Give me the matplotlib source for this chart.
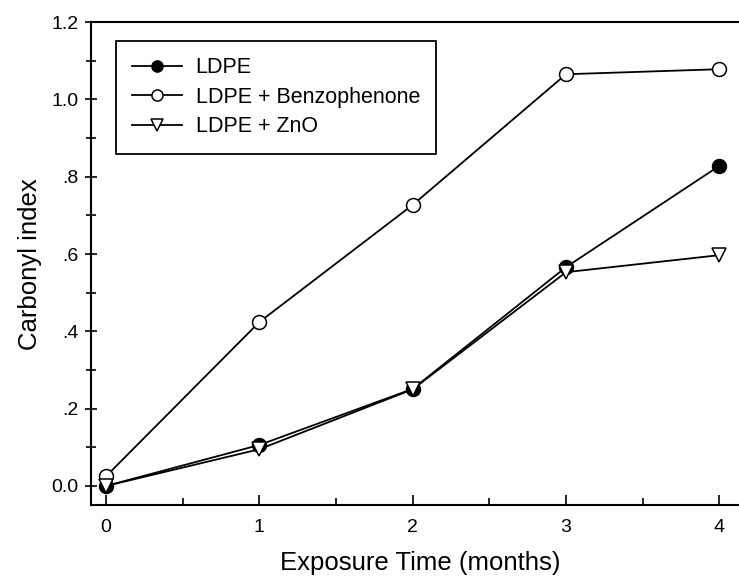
import matplotlib
matplotlib.use("Agg")
import matplotlib.pyplot as plt
from matplotlib.ticker import MultipleLocator, FixedLocator, FixedFormatter

plt.rcParams['font.family'] = ['Liberation Sans', 'DejaVu Sans']

# exposure time (months) and carbonyl index
months = [0, 1, 2, 3, 4]
ldpe = [0.0, 0.106, 0.251, 0.566, 0.828]
ldpe_benzo = [0.025, 0.424, 0.727, 1.065, 1.078]
ldpe_zno = [0.0, 0.095, 0.25, 0.553, 0.597]

y_ticks = [0.0, 0.2, 0.4, 0.6, 0.8, 1.0, 1.2]
y_labels = ["0.0", ".2", ".4", ".6", ".8", "1.0", "1.2"]

fig = plt.figure(figsize=(7.39, 5.8), dpi=100)
# axes run past the right edge of the picture, as in the scanned original
ax = fig.add_axes([0.1227, 0.1288, 0.8922, 0.8332])

kw = dict(color="black", lw=1.3, markersize=10, markeredgewidth=1.1, clip_on=False)
ax.plot(months, ldpe, marker="o", markerfacecolor="black", label="LDPE", zorder=4, **kw)
ax.plot(months, ldpe_benzo, marker="o", markerfacecolor="white", label="LDPE + Benzophenone", zorder=3, **kw)
ax.plot(months, ldpe_zno, marker="v", markerfacecolor="white", label="LDPE + ZnO", zorder=5, **kw)

ax.set_xlim(-0.1, 4.2)
ax.set_ylim(-0.05, 1.2)
ax.xaxis.set_major_locator(MultipleLocator(1))
ax.xaxis.set_minor_locator(MultipleLocator(0.5))
ax.yaxis.set_major_locator(FixedLocator(y_ticks))
ax.yaxis.set_major_formatter(FixedFormatter(y_labels))
ax.yaxis.set_minor_locator(MultipleLocator(0.1))

for s in ax.spines.values():
    s.set_linewidth(1.5)
ax.tick_params(axis="x", which="both", direction="in", labelsize=14, pad=10, width=1.2)
ax.tick_params(axis="x", which="major", length=7)
ax.tick_params(axis="x", which="minor", length=5)
ax.tick_params(axis="y", which="both", direction="inout", labelsize=14, pad=4, width=1.2)
ax.tick_params(axis="y", which="major", length=9)
ax.tick_params(axis="y", which="minor", length=7)

ax.set_xlabel("Exposure Time (months)", fontsize=18.5, labelpad=11)
ax.set_ylabel("Carbonyl index", fontsize=18.5, labelpad=7)

leg = ax.legend(loc="upper left", bbox_to_anchor=(116 / 739, 1 - 41 / 580),
                bbox_transform=fig.transFigure, fontsize=15.5, frameon=True,
                fancybox=False, handlelength=2.3, handletextpad=0.65,
                labelspacing=0.4, borderpad=0.75, borderaxespad=0, markerscale=0.8)
leg.get_frame().set_edgecolor("black")
leg.get_frame().set_linewidth(1.3)
leg.get_frame().set_alpha(1)

fig.savefig("out.png", dpi=100)
